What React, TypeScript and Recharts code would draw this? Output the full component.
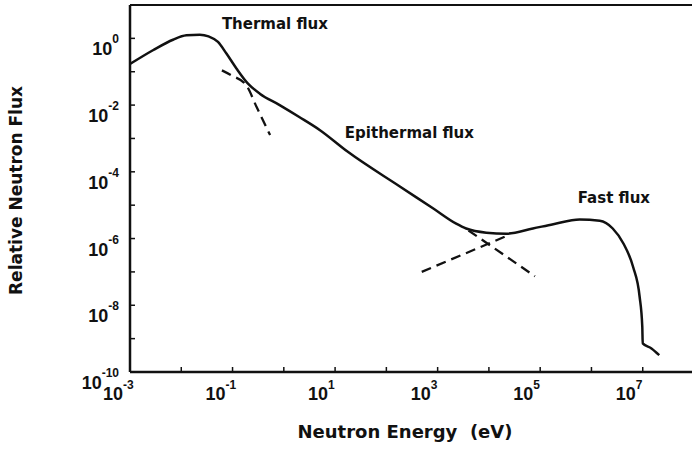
import React from "react";
import {
  LineChart, Line, XAxis, YAxis, ReferenceLine, ReferenceDot,
} from "recharts";

// solid curve: total flux spectrum (eV, relative flux)
const totalEnergy = [
  1e-3, 2.8e-3, 6.9e-3, 1.26e-2, 2.3e-2, 3.4e-2, 5.2e-2, 7.6e-2, 0.12, 0.2, 0.34,
  0.83, 2.0, 5.0, 18, 180, 810, 2300, 3600, 8900, 2.2e4, 7.2e4, 1.8e5, 5.9e5,
  1.45e6, 2.6e6, 4.2e6, 6.5e6, 8.7e6, 9.8e6, 1.0e7, 1.48e7, 2.1e7,
];
const totalFlux = [
  0.17, 0.44, 0.91, 1.23, 1.29, 1.15, 0.78, 0.35, 0.123, 0.044, 0.022,
  0.01, 4.4e-3, 1.8e-3, 3.9e-4, 3.7e-5, 8.1e-6, 2.8e-6, 2.0e-6, 1.5e-6, 1.4e-6, 2.0e-6, 2.7e-6, 3.7e-6,
  3.4e-6, 2.0e-6, 7.1e-7, 1.4e-7, 1.8e-8, 2.3e-9, 7.2e-10, 5.1e-10, 3.2e-10,
];

// dashed components
const maxwellEnergy = [0.062, 0.095, 0.186, 0.295, 0.54];
const maxwellFlux = [0.11, 0.078, 0.039, 8.7e-3, 1.26e-3];

const slowingEnergy = [4000, 7.9e4];
const slowingFlux = [1.75e-6, 7.4e-8];

const fissionEnergy = [490, 2.4e4];
const fissionFlux = [1.0e-7, 1.26e-6];

const energyTicks = [1e-3, 1e-2, 1e-1, 1, 10, 100, 1e3, 1e4, 1e5, 1e6, 1e7];
const fluxTicks = [1e-10, 1e-9, 1e-8, 1e-7, 1e-6, 1e-5, 1e-4, 1e-3, 1e-2, 1e-1, 1];

const noteText = ["Thermal flux", "Epithermal flux", "Fast flux"];
const noteEnergy = [0.062, 15.5, 5.4e5];
const noteFlux = [1.86, 1.02e-3, 1.15e-5];

const pairs = (xs: number[], ys: number[]) => xs.map((e, i) => ({ e, f: ys[i] }));

const INK = "#111";
const TICK_FONT = "'Liberation Sans', Arial, sans-serif";
const TEXT_FONT = "'DejaVu Sans', Verdana, sans-serif";

function EnergyTick({ x, y, payload }: any) {
  const p = Math.round(Math.log10(payload.value));
  return (
    <g>
      <line x1={x} y1={y} x2={x} y2={y - 5} stroke={INK} strokeWidth={1.5} />
      {p % 2 !== 0 && (
        <text x={x - 27} y={y + 28} fill={INK} fontFamily={TICK_FONT} fontWeight="bold" fontSize={18}>
          <tspan>10</tspan>
          <tspan fontSize={12} dy={-11}>{p}</tspan>
        </text>
      )}
    </g>
  );
}

function FluxTick({ x, y, payload }: any) {
  const p = Math.round(Math.log10(payload.value));
  return (
    <g>
      <line x1={x} y1={y} x2={x + 5} y2={y} stroke={INK} strokeWidth={1.5} />
      {p % 2 === 0 && (
        <text x={x - 11} y={y + 17} textAnchor="end" fill={INK} fontFamily={TICK_FONT} fontWeight="bold" fontSize={18}>
          <tspan>10</tspan>
          <tspan fontSize={12} dy={-12}>{p}</tspan>
        </text>
      )}
    </g>
  );
}

const dashed = { stroke: INK, strokeWidth: 2.3, strokeDasharray: "10 6", dot: false, isAnimationActive: false };

export default function App() {
  return (
    <div style={{ position: "absolute", left: 0, top: 0, width: 692, height: 454, overflow: "hidden", background: "#fff" }}>
      <LineChart width={700} height={454} margin={{ top: 5, right: 6, bottom: 0, left: 0 }}>
        <XAxis
          dataKey="e"
          type="number"
          scale="log"
          domain={[1e-3, 1e8]}
          allowDataOverflow
          ticks={energyTicks}
          interval={0}
          tick={<EnergyTick />}
          tickSize={0}
          tickMargin={0}
          tickLine={false}
          height={82}
          axisLine={{ stroke: INK, strokeWidth: 2.5 }}
          label={{
            content: ({ viewBox }: any) => (
              <text
                x={viewBox.x + viewBox.width / 2 - 7}
                y={438}
                textAnchor="middle"
                fill={INK}
                fontFamily={TEXT_FONT}
                fontWeight="bold"
                fontSize={18}
              >
                {"Neutron Energy \u00a0(eV)"}
              </text>
            ),
          }}
        />
        <YAxis
          type="number"
          scale="log"
          domain={[1e-10, 10]}
          allowDataOverflow
          ticks={fluxTicks}
          interval={0}
          tick={<FluxTick />}
          tickSize={0}
          tickMargin={0}
          tickLine={false}
          width={130}
          axisLine={{ stroke: INK, strokeWidth: 2.5 }}
          label={{
            content: ({ viewBox }: any) => {
              const cy = viewBox.y + viewBox.height / 2 + 2;
              return (
                <text
                  x={22}
                  y={cy}
                  transform={`rotate(-90 22 ${cy})`}
                  textAnchor="middle"
                  fill={INK}
                  fontFamily={TEXT_FONT}
                  fontWeight="bold"
                  fontSize={17}
                >
                  Relative Neutron Flux
                </text>
              );
            },
          }}
        />
        <ReferenceLine y={10} stroke={INK} strokeWidth={2} ifOverflow="visible" />

        <Line
          data={pairs(totalEnergy, totalFlux)}
          dataKey="f"
          type="monotone"
          stroke={INK}
          strokeWidth={2.5}
          dot={false}
          isAnimationActive={false}
        />
        <Line data={pairs(maxwellEnergy, maxwellFlux)} dataKey="f" type="monotone" {...dashed} />
        <Line data={pairs(slowingEnergy, slowingFlux)} dataKey="f" type="linear" {...dashed} />
        <Line data={pairs(fissionEnergy, fissionFlux)} dataKey="f" type="linear" {...dashed} />

        {noteText.map((t, i) => (
          <ReferenceDot
            key={t}
            x={noteEnergy[i]}
            y={noteFlux[i]}
            r={1}
            fill="none"
            stroke="none"
            ifOverflow="visible"
            label={{
              content: ({ viewBox }: any) => (
                <text
                  x={viewBox.x + viewBox.width / 2}
                  y={viewBox.y + viewBox.height / 2}
                  fill={INK}
                  fontFamily={TEXT_FONT}
                  fontWeight="bold"
                  fontSize={15}
                >
                  {t}
                </text>
              ),
            }}
          />
        ))}
      </LineChart>
    </div>
  );
}
